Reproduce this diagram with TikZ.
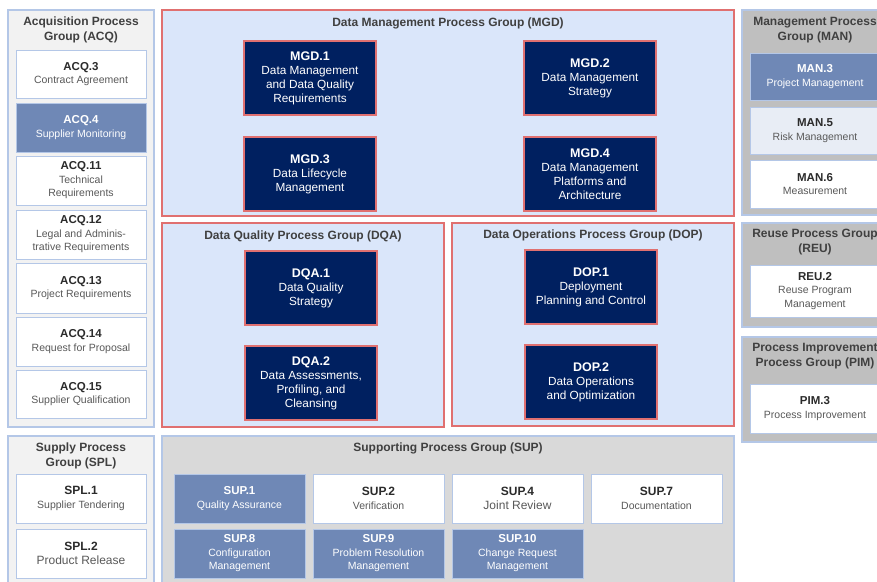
\documentclass[tikz,border=0pt]{standalone}
\usepackage{fontspec}
\setmainfont{Liberation Sans}
\definecolor{grpline}{HTML}{B4C7E7}
\definecolor{boxline}{HTML}{B4C7E7}
\definecolor{redline}{HTML}{E07070}
\definecolor{lgrey}{HTML}{F2F2F2}
\definecolor{mgrey}{HTML}{D9D9D9}
\definecolor{dgrey}{HTML}{BFBFBF}
\definecolor{lblue}{HTML}{DAE6FA}
\definecolor{paleblue}{HTML}{E8EDF5}
\definecolor{midblue}{HTML}{6F88B6}
\definecolor{navy}{HTML}{002060}
\definecolor{titlecol}{HTML}{404040}
\definecolor{idcol}{HTML}{2B2B2B}
\definecolor{desccol}{HTML}{595959}
\newcommand\IdW[1]{{\bfseries\fontsize{11.5}{13.5}\selectfont\color{idcol}#1}}
\newcommand\IdB[1]{{\bfseries\fontsize{11.5}{13.5}\selectfont #1}}
\newcommand\IdN[1]{{\bfseries\fontsize{12.5}{14}\selectfont #1}}
\newcommand\IdL[1]{{\bfseries\fontsize{12}{14}\selectfont\color{idcol}#1}}
\tikzset{
  grp/.style={draw=grpline, line width=1.1pt, anchor=north west},
  rgrp/.style={draw=redline, line width=1.2pt, fill=lblue, anchor=north west},
  gtitle/.style={font=\bfseries\fontsize{12}{15}\selectfont, text=titlecol, align=center},
  wbox/.style={draw=boxline, line width=0.9pt, fill=white, anchor=north west,
    minimum width=130pt, align=center, text=desccol, font=\fontsize{10.5}{13.5}\selectfont},
  bbox/.style={wbox, fill=midblue, text=white},
  pbox/.style={wbox, fill=paleblue},
  nbox/.style={draw=redline, line width=1.2pt, fill=navy, anchor=north west,
    minimum width=132pt, minimum height=74pt, align=center, text=white,
    font=\fontsize{11.8}{14}\selectfont},
  bigdesc/.style={font=\fontsize{12}{14}\selectfont},
}
\begin{document}
\begin{tikzpicture}[x=1pt,y=-1pt, every node/.append style={inner sep=0pt, outer sep=0pt}]
\useasboundingbox (0,0) rectangle (877,581);
\clip (0,0) rectangle (877,581);
\fill[white] (0,0) rectangle (877,581);

% ---------- Acquisition group
\node[grp, fill=lgrey, minimum width=146pt, minimum height=417pt] (acq) at (8,10) {};
\node[gtitle] (acqT) at (81,29.5) {Acquisition Process\\Group (ACQ)};
\node[wbox, minimum height=48pt] (acq3) at (16,50) {\IdW{ACQ.3}\\Contract Agreement};
\node[bbox, minimum height=49pt] (acq4) at (16,103) {\IdB{ACQ.4}\\Supplier Monitoring};
\node[wbox, minimum height=49pt] (acq11) at (16,156) {\IdW{ACQ.11}\\Technical\\Requirements};
\node[wbox, minimum height=49pt] (acq12) at (16,210) {\IdW{ACQ.12}\\Legal and Adminis-\\trative Requirements};
\node[wbox, minimum height=50pt] (acq13) at (16,263) {\IdW{ACQ.13}\\Project Requirements};
\node[wbox, minimum height=49pt] (acq14) at (16,317) {\IdW{ACQ.14}\\Request for Proposal};
\node[wbox, minimum height=48pt] (acq15) at (16,370) {\IdW{ACQ.15}\\Supplier Qualification};

% ---------- Supply group
\node[grp, fill=lgrey, minimum width=146pt, minimum height=160pt] (spl) at (8,436) {};
\node[gtitle] (splT) at (81,456) {Supply Process\\Group (SPL)};
\node[wbox, minimum height=49pt] (spl1) at (16,474) {\IdL{SPL.1}\\Supplier Tendering};
\node[wbox, minimum height=49pt, bigdesc] (spl2) at (16,529) {\IdL{SPL.2}\\Product Release};

% ---------- Data Management group
\node[rgrp, minimum width=572pt, minimum height=206pt] (mgd) at (162,10) {};
\node[gtitle] (mgdT) at (448,23) {Data Management Process Group (MGD)};
\node[nbox] (mgd1) at (244,41) {\IdN{MGD.1}\\Data Management\\and Data Quality\\Requirements};
\node[nbox] (mgd2) at (524,41) {\IdN{MGD.2}\\Data Management\\Strategy};
\node[nbox] (mgd3) at (244,137) {\IdN{MGD.3}\\Data Lifecycle\\Management};
\node[nbox] (mgd4) at (524,137) {\IdN{MGD.4}\\Data Management\\Platforms and\\Architecture};

% ---------- Data Quality group
\node[rgrp, minimum width=282pt, minimum height=204pt] (dqa) at (162,223) {};
\node[gtitle] (dqaT) at (303,236) {Data Quality Process Group (DQA)};
\node[nbox] (dqa1) at (245,251) {\IdN{DQA.1}\\Data Quality\\Strategy};
\node[nbox] (dqa2) at (245,346) {\IdN{DQA.2}\\Data Assessments,\\Profiling, and\\Cleansing};

% ---------- Data Operations group
\node[rgrp, minimum width=282pt, minimum height=203pt] (dop) at (452,223) {};
\node[gtitle] (dopT) at (593,235) {Data Operations Process Group (DOP)};
\node[nbox] (dop1) at (525,250) {\IdN{DOP.1}\\Deployment\\Planning and Control};
\node[nbox] (dop2) at (525,345) {\IdN{DOP.2}\\Data Operations\\and Optimization};

% ---------- Supporting group
\node[grp, fill=mgrey, minimum width=572pt, minimum height=160pt] (sup) at (162,436) {};
\node[gtitle] (supT) at (448,448) {Supporting Process Group (SUP)};
\node[bbox, minimum width=131pt, minimum height=49pt] (sup1) at (174,474) {\IdB{SUP.1}\\Quality Assurance};
\node[wbox, minimum width=131pt, minimum height=49pt] (sup2) at (313,474) {\IdL{SUP.2}\\Verification};
\node[wbox, minimum width=131pt, minimum height=49pt, bigdesc] (sup4) at (452,474) {\IdL{SUP.4}\\Joint Review};
\node[wbox, minimum width=131pt, minimum height=49pt] (sup7) at (591,474) {\IdL{SUP.7}\\Documentation};
\node[bbox, minimum width=131pt, minimum height=49pt] (sup8) at (174,529) {\IdB{SUP.8}\\Configuration\\Management};
\node[bbox, minimum width=131pt, minimum height=49pt] (sup9) at (313,529) {\IdB{SUP.9}\\Problem Resolution\\Management};
\node[bbox, minimum width=131pt, minimum height=49pt] (sup10) at (452,529) {\IdB{SUP.10}\\Change Request\\Management};

% ---------- Management group
\node[grp, fill=dgrey, minimum width=146pt, minimum height=205pt] (man) at (742,10) {};
\node[gtitle] (manT) at (815,30) {Management Process\\Group (MAN)};
\node[bbox, minimum height=47pt] (man3) at (750,53) {\IdB{MAN.3}\\Project Management};
\node[pbox, minimum height=47pt] (man5) at (750,107) {\IdW{MAN.5}\\Risk Management};
\node[wbox, minimum height=48pt] (man6) at (750,160) {\IdW{MAN.6}\\Measurement};

% ---------- Reuse group
\node[grp, fill=dgrey, minimum width=146pt, minimum height=104pt] (reu) at (742,223) {};
\node[gtitle] (reuT) at (815,242.5) {Reuse Process Group\\(REU)};
\node[wbox, minimum height=52pt] (reu2) at (750,265) {\IdW{REU.2}\\Reuse Program\\Management};

% ---------- Process Improvement group
\node[grp, fill=dgrey, minimum width=146pt, minimum height=105pt] (pim) at (742,337) {};
\node[gtitle] (pimT) at (815,356) {Process Improvement\\Process Group (PIM)};
\node[wbox, minimum height=49pt] (pim3) at (750,384) {\IdW{PIM.3}\\Process Improvement};
\end{tikzpicture}
\end{document}
